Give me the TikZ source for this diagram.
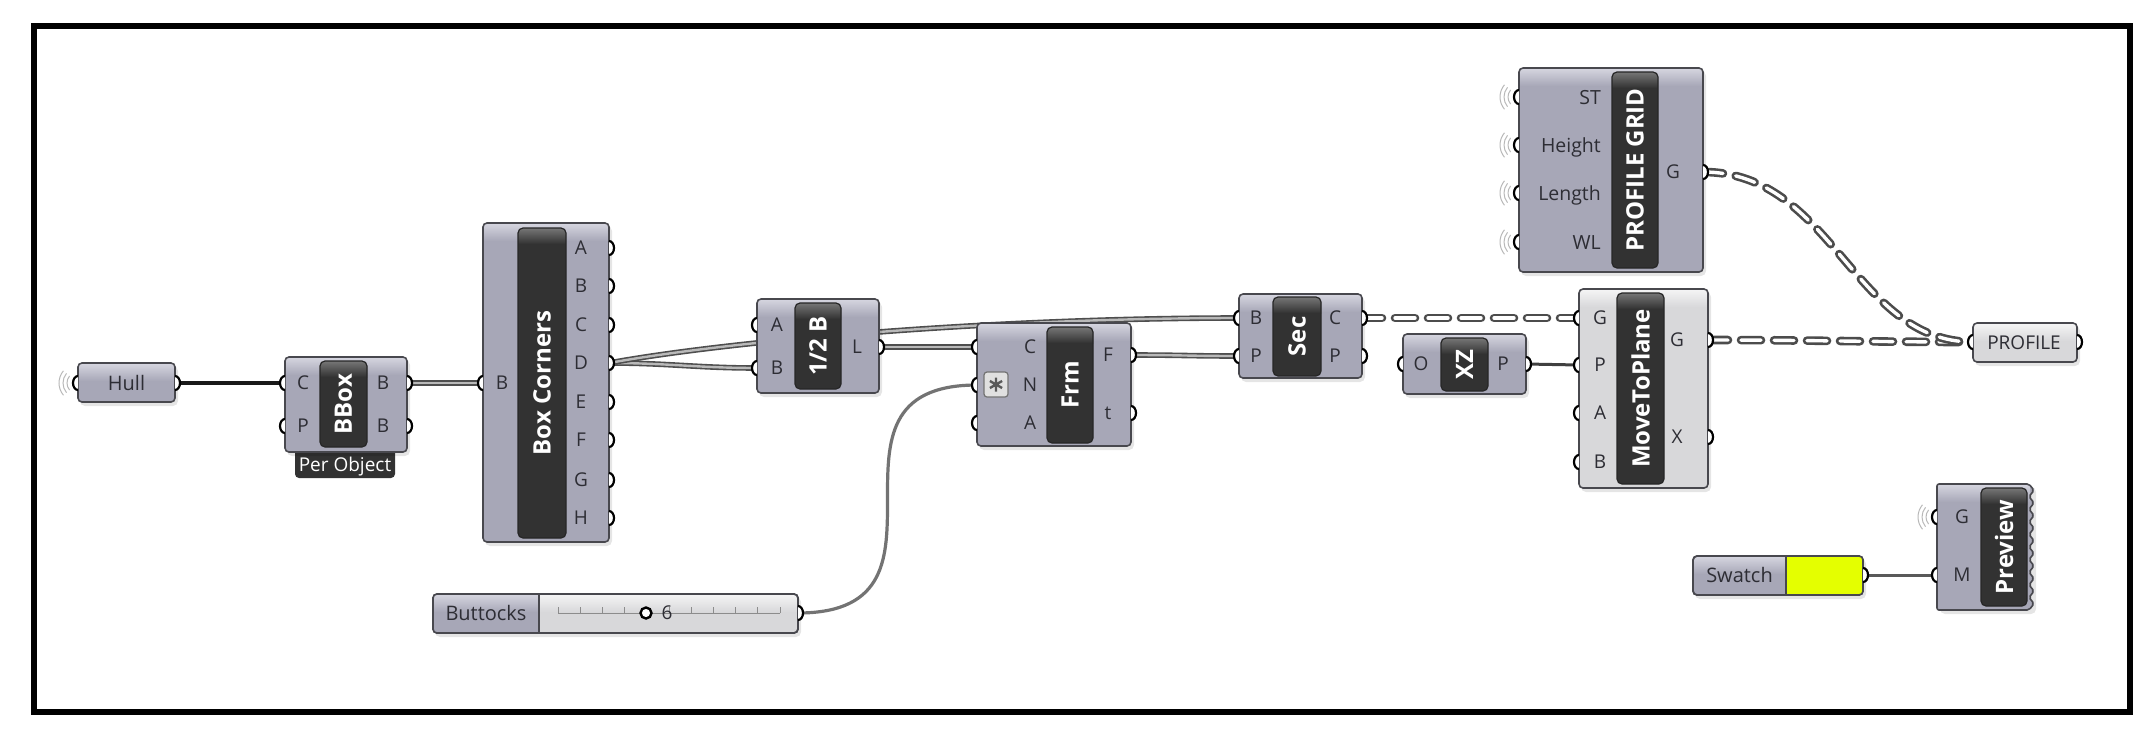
\documentclass[tikz,border=0pt]{standalone}
\usepackage{fontspec}
\setmainfont{Open Sans}
\usetikzlibrary{backgrounds}
\definecolor{ghbody}{RGB}{167,167,183}
\definecolor{ghband}{RGB}{214,214,224}
\definecolor{ghlite}{RGB}{216,216,218}
\definecolor{ghliteband}{RGB}{245,245,245}
\definecolor{ghedge}{RGB}{72,72,78}
\definecolor{ghcapc}{RGB}{50,50,50}
\definecolor{ghcapband}{RGB}{118,118,118}
\definecolor{ghtext}{RGB}{45,45,52}
\definecolor{swatchy}{RGB}{228,255,0}
\definecolor{wirelist}{RGB}{78,78,78}
\definecolor{wirelistin}{RGB}{185,185,185}
\tikzset{
  bodyst/.style={rectangle,inner sep=0pt,outer sep=0pt,rounded corners=4pt},
  edgest/.style={draw=ghedge,line width=1.6pt,rounded corners=4pt},
  capst/.style={rectangle,inner sep=0pt,outer sep=0pt,rounded corners=5pt,fill=ghcapc},
  capedge/.style={draw=black!85,line width=1.2pt,rounded corners=5pt},
  caplab/.style={inner sep=0pt,text=white,rotate=90,font=\bfseries\fontsize{24}{26}\selectfont},
  plabst/.style={inner sep=0pt,text=ghtext,font=\fontsize{19}{21}\selectfont},
  plabbig/.style={inner sep=0pt,text=ghtext,font=\fontsize{19.5}{21}\selectfont},
  ptext/.style={inner sep=0pt,text=ghtext,font=\fontsize{20}{22}\selectfont},
  portst/.style={fill=white,draw=black,line width=2.2pt},
  ghin/.pic={\filldraw[portst] (0,-7) arc[start angle=270,end angle=90,x radius=5,y radius=7];},
  ghout/.pic={\filldraw[portst] (0,-7) arc[start angle=270,end angle=450,x radius=5,y radius=7];},
  wless/.pic={\foreach \r in {11,15,19}{\draw[black!28,line width=1pt] (140:\r) arc[start angle=140,end angle=220,radius=\r];}},
  shadowst/.style={fill=black,fill opacity=0.1,rounded corners=5pt},
  wblack/.style={draw=black!90,line width=3.2pt},
  wdark/.style={draw=black!75,line width=3pt},
  wgrey/.style={draw=black!55,line width=3.2pt},
  wmid/.style={draw=black!65,line width=3pt},
  listw/.style={draw=wirelist,line width=1.6pt,double=wirelistin,double distance=2.4pt},
  treew/.style={draw=black!70,line width=2.6pt,double=white,double distance=3.4pt,line cap=round,dash pattern=on 20pt off 13pt},
}
\newcommand\ghbox[7]{%
  \fill[shadowst] (#2+2,#3+3) rectangle (#4+3,#5+4);
  \node[bodyst,fill=#6,minimum width={(#4-#2)*1pt},minimum height={(#5-#3)*1pt}] (#1) at ({(#2+#4)/2},{(#3+#5)/2}) {};
  \begin{scope}
    \clip[rounded corners=4pt] (#2,#3) rectangle (#4,#5);
    \fill[top color=#7,bottom color=#6] (#2,#3) rectangle (#4,#3+18);
  \end{scope}
  \draw[edgest] (#2,#3) rectangle (#4,#5);
}
\newcommand\ghcap[6]{%
  \node[capst,minimum width={(#4-#2)*1pt},minimum height={(#5-#3)*1pt}] (#1) at ({(#2+#4)/2},{(#3+#5)/2}) {};
  \begin{scope}
    \clip[rounded corners=5pt] (#2,#3) rectangle (#4,#5);
    \fill[top color=ghcapband,bottom color=ghcapc] (#2,#3) rectangle (#4,#3+16);
  \end{scope}
  \draw[capedge] (#2,#3) rectangle (#4,#5);
  \node[caplab] (#1-t) at ({(#2+#4)/2},{(#3+#5)/2}) {#6};
}
\newcommand\gin[3]{\coordinate (#1) at (#2,#3); \pic at (#1) {ghin};}
\newcommand\gout[3]{\coordinate (#1) at (#2,#3); \pic at (#1) {ghout};}
\newcommand\plab[4]{\node[plabst,anchor=base] (#1) at (#2,#3+6.8) {#4};}
\newcommand\plabe[4]{\node[plabbig,anchor=base east] (#1) at (#2,#3+7) {#4};}

\begin{document}
\begin{tikzpicture}[x=1pt,y=-1pt]
\useasboundingbox (0,0) rectangle (2154,729);
\node[draw=black,line width=6pt,minimum width=2096pt,minimum height=686pt,inner sep=0pt] (frame) at (1081.75,368.5) {};

% Hull
\ghbox{hull}{78}{363}{175}{402}{ghbody}{ghband}
\node[ptext,anchor=base] (hull-t) at (126.5,390.2) {Hull};
\pic at (78,383) {wless};
\gin{hull-i}{78}{383}
\gout{hull-o}{175}{383}

% BBox
\node[capst,rounded corners=4pt,minimum width=100pt,minimum height=34pt] (bbox-tag) at (345,461) {};
\ghbox{bbox}{285}{357}{407}{452}{ghbody}{ghband}
\node[inner sep=0pt,text=white,font=\fontsize{19}{21}\selectfont,anchor=base] (bbox-tagt) at (345,471.5) {Per Object};
\ghcap{bbox-c}{320}{361}{367}{447}{BBox}
\gin{bbox-iC}{285}{383}
\gin{bbox-iP}{285}{426}
\gout{bbox-oB}{407}{383}
\gout{bbox-oB2}{407}{426}
\plab{bbox-lC}{303}{383}{C}
\plab{bbox-lP}{303}{426}{P}
\plab{bbox-lB}{383}{383}{B}
\plab{bbox-lB2}{383}{426}{B}

% Box Corners
\ghbox{bc}{483}{223}{609}{542}{ghbody}{ghband}
\ghcap{bc-c}{518}{228}{566}{538}{Box Corners}
\gin{bc-iB}{483}{383}
\plab{bc-lB}{502}{383}{B}
\foreach \n/\yy in {A/248,B/286,C/325,D/363,E/402,F/440,G/480,H/518}{\gout{bc-o\n}{609}{\yy}\plab{bc-l\n}{581}{\yy}{\n}}

% 1/2 B
\ghbox{hb}{757}{299}{879}{393}{ghbody}{ghband}
\ghcap{hb-c}{795}{303}{841}{389}{1/2 B}
\gin{hb-iA}{757}{325}
\gin{hb-iB}{757}{368}
\gout{hb-oL}{879}{347}
\plab{hb-lA}{777}{325}{A}
\plab{hb-lB}{777}{368}{B}
\plab{hb-lL}{857}{347}{L}

% Frm
\ghbox{frm}{977}{323}{1131}{446}{ghbody}{ghband}
\ghcap{frm-c}{1047}{327}{1093}{443}{Frm}
\gin{frm-iC}{977}{347}
\gin{frm-iN}{977}{385}
\gin{frm-iA}{977}{423}
\gout{frm-oF}{1131}{355}
\gout{frm-ot}{1131}{413}
\plab{frm-lC}{1030}{347}{C}
\plab{frm-lN}{1030}{385}{N}
\plab{frm-lA}{1030}{423}{A}
\plab{frm-lF}{1108}{355}{F}
\plab{frm-lt}{1108}{413}{t}
\node[rectangle,rounded corners=3pt,fill=black!12,draw=black!55,line width=1.2pt,minimum width=24pt,minimum height=25pt,inner sep=0pt] (frm-icon) at (996,384.5) {};
\draw[black!65,line width=2.4pt] (996,377.5) -- (996,391.5) (989.9,381) -- (1002.1,388) (989.9,388) -- (1002.1,381);

% Sec
\ghbox{sec}{1239}{294}{1362}{378}{ghbody}{ghband}
\ghcap{sec-c}{1273}{297}{1321}{376}{Sec}
\gin{sec-iB}{1239}{318}
\gin{sec-iP}{1239}{356}
\gout{sec-oC}{1362}{318}
\gout{sec-oP}{1362}{356}
\plab{sec-lB}{1256}{318}{B}
\plab{sec-lP}{1256}{356}{P}
\plab{sec-lC}{1335}{318}{C}
\plab{sec-lP2}{1335}{356}{P}

% XZ
\ghbox{xz}{1403}{334}{1526}{394}{ghbody}{ghband}
\ghcap{xz-c}{1441}{338}{1488}{391}{XZ}
\gin{xz-iO}{1403}{364}
\gout{xz-oP}{1526}{364}
\plab{xz-lO}{1421}{364}{O}
\plab{xz-lP}{1503}{364}{P}

% MoveToPlane
\ghbox{mtp}{1579}{289}{1708}{488}{ghlite}{ghliteband}
\ghcap{mtp-c}{1617}{293}{1664}{484}{MoveToPlane}
\gin{mtp-iG}{1579}{318}
\gin{mtp-iP}{1579}{365}
\gin{mtp-iA}{1579}{413}
\gin{mtp-iB}{1579}{462}
\gout{mtp-oG}{1708}{340}
\gout{mtp-oX}{1708}{437}
\plab{mtp-lG}{1600}{318}{G}
\plab{mtp-lP}{1600}{365}{P}
\plab{mtp-lA}{1600}{413}{A}
\plab{mtp-lB}{1600}{462}{B}
\plab{mtp-lG2}{1677}{340}{G}
\plab{mtp-lX}{1677}{437}{X}

% PROFILE GRID
\ghbox{pg}{1519}{68}{1703}{272}{ghbody}{ghband}
\ghcap{pg-c}{1612}{72}{1658}{268}{PROFILE GRID}
\foreach \n/\yy/\t in {S/97/ST,H/145/Height,L/193/Length,W/242/WL}{\pic at (1519,\yy) {wless}; \gin{pg-i\n}{1519}{\yy}\plabe{pg-l\n}{1601}{\yy}{\t}}
\gout{pg-oG}{1703}{172}
\plab{pg-lG}{1673}{172}{G}

% PROFILE param
\ghbox{prof}{1973}{323}{2077}{362}{ghlite}{ghliteband}
\node[plabst,anchor=base] (prof-t) at (2024,349) {PROFILE};
\gin{prof-i}{1973}{342}
\gout{prof-o}{2077}{342}

% Swatch
\ghbox{sw}{1693}{556}{1863}{595}{ghbody}{ghband}
\begin{scope}
  \clip[rounded corners=4pt] (1693,556) rectangle (1863,595);
  \fill[swatchy] (1786,556) rectangle (1863,595);
\end{scope}
\draw[edgest] (1693,556) rectangle (1863,595);
\draw[ghedge,line width=1.6pt] (1786,556) -- (1786,595);
\node[ptext,anchor=base] (sw-t) at (1739.5,582) {Swatch};
\gout{sw-o}{1863}{575}

% Preview
\fill[shadowst] (1940,487) rectangle (2036,614);
\fill[ghbody] (1937,484) -- (2029,484) \foreach \k in {0,...,9}{ -- (2034,{490.3+12.6*\k}) -- (2029,{496.6+12.6*\k}) } -- (1937,610) -- cycle;
\begin{scope}
  \clip (1937,484) rectangle (2030,502);
  \fill[top color=ghband,bottom color=ghbody] (1937,484) rectangle (2030,502);
\end{scope}
\draw[ghedge,line width=1.6pt,rounded corners=2pt] (1937,484) -- (2029,484) \foreach \k in {0,...,9}{ -- (2034,{490.3+12.6*\k}) -- (2029,{496.6+12.6*\k}) } -- (1937,610) -- cycle;
\ghcap{prev-c}{1981}{488}{2027}{606}{Preview}
\pic at (1937,517) {wless};
\gin{prev-iG}{1937}{517}
\gin{prev-iM}{1937}{575}
\plab{prev-lG}{1962}{517}{G}
\plab{prev-lM}{1962}{575}{M}

% Buttocks slider
\ghbox{butt}{433}{594}{798}{633}{ghlite}{ghliteband}
\begin{scope}
  \clip[rounded corners=4pt] (433,594) rectangle (798,633);
  \fill[ghbody] (433,594) rectangle (539,633);
  \fill[top color=ghband,bottom color=ghbody] (433,594) rectangle (539,612);
\end{scope}
\draw[edgest] (433,594) rectangle (798,633);
\draw[ghedge,line width=1.6pt] (539,594) -- (539,633);
\node[ptext,anchor=base] (butt-t) at (486,620.5) {Buttocks};
\draw[black!45,line width=1pt] (558,613) -- (780,613);
\foreach \i in {0,...,10}{\draw[black!45,line width=1pt] ({558+22.2*\i},613) -- ({558+22.2*\i},607);}
\node[circle,draw=black,line width=2.4pt,fill=white,minimum size=11pt,inner sep=0pt] (butt-knob) at (646,613) {};
\node[ptext,anchor=base,font=\fontsize{19}{21}\selectfont] (butt-v) at (667,619.8) {6};
\gout{butt-o}{798}{613}

% wires
\begin{pgfonlayer}{background}
\draw[wblack] (hull-o) -- (bbox-iC);
\draw[listw] (bbox-oB) .. controls +(40,0) and +(-40,0) .. (bc-iB);
\draw[listw] (bc-oD) .. controls +(60,0) and +(-60,0) .. (hb-iB);
\draw[listw] (bc-oD) .. controls +(120,-22) and +(-250,0) .. (sec-iB);
\draw[listw] (hb-oL) -- (frm-iC);
\draw[listw] (frm-oF) .. controls +(50,0) and +(-50,0) .. (sec-iP);
\draw[treew] (sec-oC) -- (mtp-iG);
\draw[wdark] (xz-oP) -- (mtp-iP);
\draw[treew] (mtp-oG) .. controls +(100,0) and +(-100,0) .. (prof-i);
\draw[treew] (pg-oG) .. controls +(130,0) and +(-120,0) .. (prof-i);
\draw[wgrey] (butt-o) .. controls +(179,0) and +(-179,0) .. (frm-iN);
\draw[wmid] (sw-o) -- (prev-iM);
\end{pgfonlayer}
\end{tikzpicture}
\end{document}
